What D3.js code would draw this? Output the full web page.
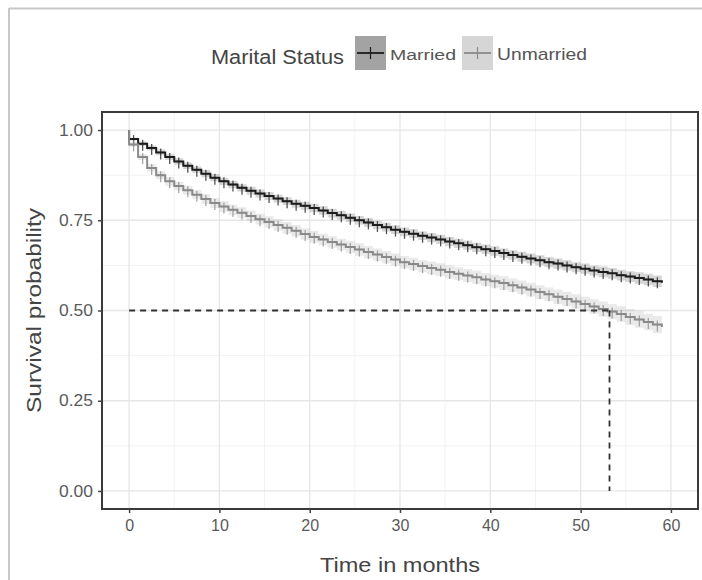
<!DOCTYPE html>
<html>
<head>
<meta charset="utf-8">
<script src="https://cdn.jsdelivr.net/npm/d3@7"></script>
<style>
  body { margin: 0; background: #fff; }
  text { font-family: "Liberation Sans", Arial, sans-serif; }
</style>
</head>
<body>
<svg id="chart" width="702" height="580"></svg>
<script>
// survival estimates, one value per month (0..59)
let months = d3.range(0, 60);
let married = [0.975,0.962,0.950,0.938,0.925,0.913,0.901,0.890,0.879,0.868,
               0.858,0.849,0.840,0.832,0.824,0.817,0.810,0.803,0.796,0.790,
               0.784,0.777,0.770,0.764,0.757,0.750,0.744,0.737,0.731,0.724,
               0.718,0.713,0.707,0.702,0.697,0.691,0.686,0.681,0.675,0.670,
               0.665,0.659,0.654,0.649,0.644,0.639,0.634,0.630,0.625,0.620,
               0.616,0.611,0.607,0.603,0.598,0.594,0.590,0.586,0.581,0.577];
let unmarried = [0.960,0.925,0.895,0.875,0.858,0.845,0.833,0.821,0.809,0.798,
                 0.788,0.779,0.771,0.762,0.753,0.745,0.737,0.729,0.721,0.712,
                 0.704,0.697,0.690,0.683,0.676,0.669,0.662,0.655,0.648,0.641,
                 0.634,0.629,0.623,0.618,0.613,0.607,0.602,0.597,0.592,0.586,
                 0.581,0.576,0.570,0.564,0.558,0.551,0.545,0.538,0.532,0.525,
                 0.518,0.511,0.504,0.497,0.490,0.482,0.475,0.468,0.461,0.454];
// half width of the confidence band
let ciMarried = [0.004,0.006,0.007,0.008,0.008,0.009,0.009,0.009,0.010,0.010,
                 0.010,0.010,0.010,0.011,0.011,0.011,0.011,0.011,0.011,0.011,
                 0.012,0.012,0.012,0.012,0.012,0.012,0.012,0.012,0.012,0.012,
                 0.012,0.012,0.012,0.013,0.013,0.013,0.013,0.013,0.013,0.013,
                 0.013,0.013,0.013,0.014,0.014,0.014,0.014,0.014,0.014,0.014,
                 0.014,0.014,0.015,0.015,0.015,0.015,0.016,0.016,0.016,0.017];
let ciUnmarried = [0.006,0.008,0.010,0.011,0.012,0.012,0.013,0.013,0.014,0.014,
                   0.015,0.015,0.015,0.015,0.015,0.016,0.016,0.016,0.016,0.016,
                   0.016,0.016,0.016,0.016,0.017,0.017,0.017,0.017,0.017,0.017,
                   0.017,0.017,0.017,0.018,0.018,0.018,0.018,0.018,0.018,0.018,
                   0.018,0.019,0.019,0.019,0.019,0.019,0.019,0.020,0.020,0.020,
                   0.020,0.020,0.021,0.021,0.022,0.022,0.023,0.023,0.024,0.025];
let medianUnmarried = 53.2;
let xTicks = [0, 10, 20, 30, 40, 50, 60];
let yTicks = [0, 0.25, 0.5, 0.75, 1];
let groups = ["Married", "Unmarried"];

let svg = d3.select("#chart");
let panel = {left: 102, top: 112, right: 698, bottom: 509};

let x = d3.scaleLinear().domain([-3, 63]).range([panel.left, panel.right]);
let y = d3.scaleLinear().domain([-0.05, 1.05]).range([panel.bottom, panel.top]);

// picture frame (the screenshot has a grey line on left and top)
svg.append("line").attr("x1", 9).attr("x2", 702).attr("y1", 8.5).attr("y2", 8.5)
    .attr("stroke", "#c8c8c8").attr("stroke-width", 2);
svg.append("line").attr("x1", 9).attr("x2", 9).attr("y1", 8).attr("y2", 580)
    .attr("stroke", "#c8c8c8").attr("stroke-width", 2);

// grid, theme_bw style
let grid = svg.append("g");
let minorX = d3.range(-5, 65, 5).filter(d => d % 10 != 0 && x(d) > panel.left && x(d) < panel.right);
let minorY = [0.125, 0.375, 0.625, 0.875];
grid.selectAll(".mx").data(minorX).enter().append("line")
    .attr("x1", d => x(d)).attr("x2", d => x(d))
    .attr("y1", panel.top).attr("y2", panel.bottom)
    .attr("stroke", "#f2f2f2").attr("stroke-width", 1);
grid.selectAll(".my").data(minorY).enter().append("line")
    .attr("x1", panel.left).attr("x2", panel.right)
    .attr("y1", d => y(d)).attr("y2", d => y(d))
    .attr("stroke", "#f2f2f2").attr("stroke-width", 1);
grid.selectAll(".gx").data(xTicks).enter().append("line")
    .attr("x1", d => x(d)).attr("x2", d => x(d))
    .attr("y1", panel.top).attr("y2", panel.bottom)
    .attr("stroke", "#e6e6e6").attr("stroke-width", 1.3);
grid.selectAll(".gy").data(yTicks).enter().append("line")
    .attr("x1", panel.left).attr("x2", panel.right)
    .attr("y1", d => y(d)).attr("y2", d => y(d))
    .attr("stroke", "#e6e6e6").attr("stroke-width", 1.3);

// series
let series = [
    {name: "Married", values: married, ci: ciMarried, color: "#1c1c1c", fill: "#1c1c1c"},
    {name: "Unmarried", values: unmarried, ci: ciUnmarried, color: "#8a8a8a", fill: "#8a8a8a"}
];

let area = d3.area()
    .x(d => x(d.t))
    .y0(d => y(d.lo))
    .y1(d => y(d.hi))
    .curve(d3.curveStepAfter);
let line = d3.line()
    .x(d => x(d.t))
    .y(d => y(d.v))
    .curve(d3.curveStepAfter);

series.forEach(s => {
    let pts = [{t: 0, v: 1, lo: 1, hi: 1}];
    months.forEach((m, i) => {
        pts.push({t: m, v: s.values[i], lo: s.values[i] - s.ci[i], hi: Math.min(1, s.values[i] + s.ci[i])});
    });
    svg.append("path").datum(pts)
        .attr("d", area)
        .attr("fill", s.fill)
        .attr("opacity", 0.18);
    svg.append("path").datum(pts)
        .attr("d", line)
        .attr("fill", "none")
        .attr("stroke", s.color)
        .attr("stroke-width", 2);
    // censoring marks
    let marks = svg.append("g");
    months.slice(0, 59).forEach((m, i) => {
        let cx = x(m + 0.5), cy = y(s.values[i]);
        marks.append("line").attr("x1", cx).attr("x2", cx).attr("y1", cy - 4).attr("y2", cy + 7)
            .attr("stroke", s.color).attr("stroke-width", 1.3).attr("opacity", 0.75);
        marks.append("line").attr("x1", cx - 3).attr("x2", cx + 3).attr("y1", cy).attr("y2", cy)
            .attr("stroke", s.color).attr("stroke-width", 1.3).attr("opacity", 0.75);
    });
});

// median survival guide lines
svg.append("line")
    .attr("x1", x(0)).attr("x2", x(medianUnmarried))
    .attr("y1", y(0.5)).attr("y2", y(0.5))
    .attr("stroke", "#333").attr("stroke-width", 1.8).attr("stroke-dasharray", "6,5");
svg.append("line")
    .attr("x1", x(medianUnmarried)).attr("x2", x(medianUnmarried))
    .attr("y1", y(0.5)).attr("y2", y(0))
    .attr("stroke", "#333").attr("stroke-width", 1.8).attr("stroke-dasharray", "6,5");

// panel border
svg.append("rect")
    .attr("x", panel.left).attr("y", panel.top)
    .attr("width", panel.right - panel.left).attr("height", panel.bottom - panel.top)
    .attr("fill", "none").attr("stroke", "#3a3a3a").attr("stroke-width", 2);

// axes
let xAxis = d3.axisBottom(x).tickValues(xTicks).tickSize(4).tickPadding(7);
let gx = svg.append("g").attr("transform", `translate(0,${panel.bottom})`).call(xAxis);
gx.select(".domain").remove();
gx.selectAll("line").attr("stroke", "#444").attr("stroke-width", 1.5);
gx.selectAll("text").attr("font-size", 16).attr("fill", "#5a5a5a")
    .style("font-family", "'Liberation Sans', Arial, sans-serif");

let yAxis = d3.axisLeft(y).tickValues(yTicks).tickFormat(d3.format(".2f")).tickSize(4).tickPadding(5);
let gy = svg.append("g").attr("transform", `translate(${panel.left},0)`).call(yAxis);
gy.select(".domain").remove();
gy.selectAll("line").attr("stroke", "#444").attr("stroke-width", 1.5);
gy.selectAll("text").attr("font-size", 16).attr("fill", "#5a5a5a")
    .attr("textLength", 34).attr("lengthAdjust", "spacingAndGlyphs")
    .style("font-family", "'Liberation Sans', Arial, sans-serif");

// axis titles
svg.append("text")
    .attr("x", (panel.left + panel.right) / 2).attr("y", 572)
    .attr("text-anchor", "middle").attr("font-size", 20).attr("fill", "#444")
    .attr("textLength", 160).attr("lengthAdjust", "spacingAndGlyphs")
    .text("Time in months");
svg.append("text")
    .attr("transform", `translate(41,${(panel.top + panel.bottom) / 2}) rotate(-90)`)
    .attr("text-anchor", "middle").attr("font-size", 20).attr("fill", "#444")
    .attr("textLength", 205).attr("lengthAdjust", "spacingAndGlyphs")
    .text("Survival probability");

// legend
let legend = svg.append("g");
legend.append("text")
    .attr("x", 211).attr("y", 64)
    .attr("font-size", 20).attr("fill", "#444")
    .attr("textLength", 133).attr("lengthAdjust", "spacingAndGlyphs")
    .text("Marital Status");
let keys = [
    {name: groups[0], bx: 355, tx: 390, tw: 66, box: "#a3a3a3", color: "#1c1c1c", fs: 14},
    {name: groups[1], bx: 462, tx: 497, tw: 90, box: "#d6d6d6", color: "#8a8a8a", fs: 17}
];
keys.forEach(k => {
    legend.append("rect").attr("x", k.bx).attr("y", 36).attr("width", 31).attr("height", 34)
        .attr("fill", k.box);
    legend.append("line").attr("x1", k.bx + 2).attr("x2", k.bx + 29).attr("y1", 53).attr("y2", 53)
        .attr("stroke", k.color).attr("stroke-width", 1.8);
    legend.append("line").attr("x1", k.bx + 15.5).attr("x2", k.bx + 15.5).attr("y1", 47).attr("y2", 59)
        .attr("stroke", k.color).attr("stroke-width", 1.2);
    legend.append("text").attr("x", k.tx).attr("y", 60)
        .attr("font-size", k.fs).attr("fill", "#555")
        .attr("textLength", k.tw).attr("lengthAdjust", "spacingAndGlyphs")
        .text(k.name);
});
</script>
</body>
</html>
